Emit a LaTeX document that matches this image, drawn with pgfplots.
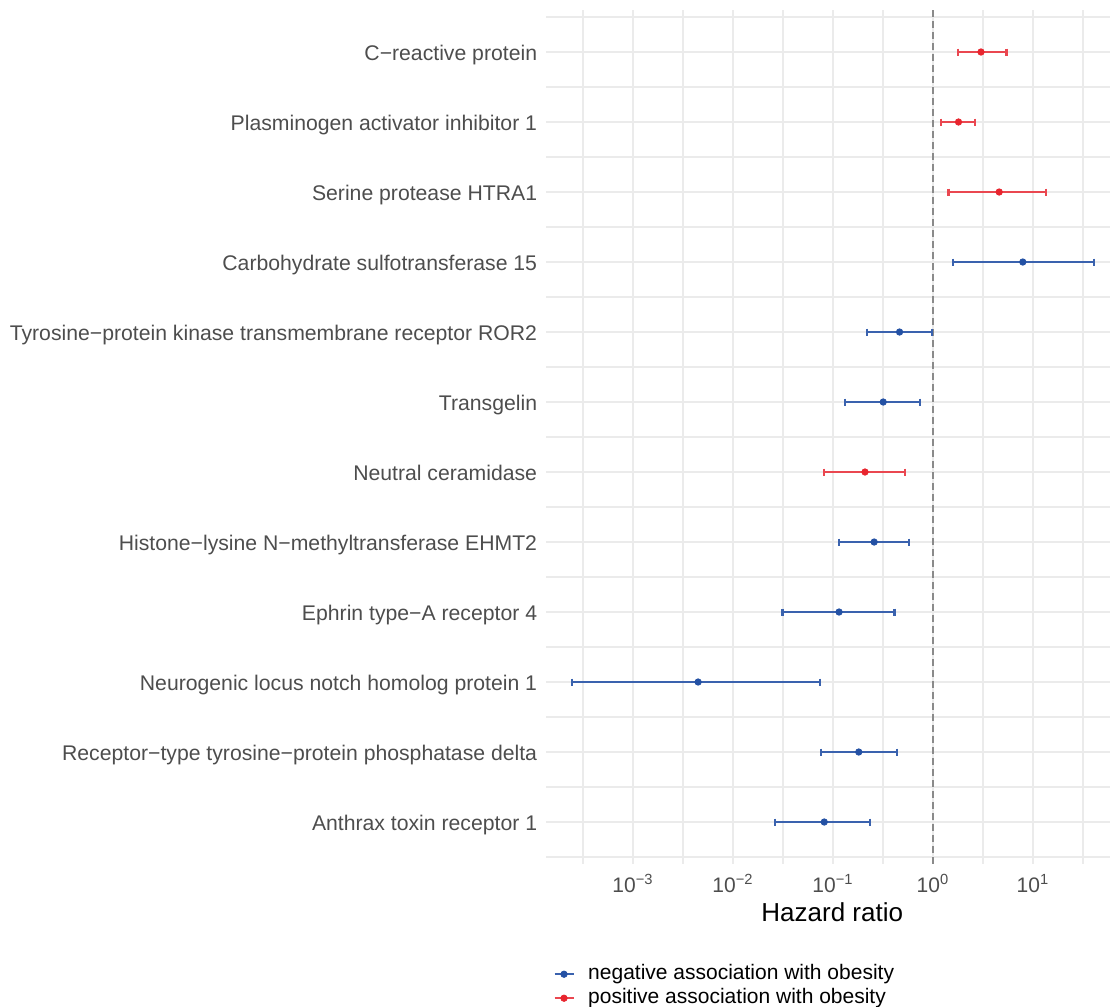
\documentclass[border=0pt]{standalone}
\usepackage{pgfplots}
\pgfplotsset{compat=1.18}
\usepackage{fontspec}
\setmainfont{Liberation Sans}
\definecolor{gridc}{HTML}{EBEBEB}
\definecolor{labc}{HTML}{4D4D4D}
\definecolor{redpt}{HTML}{E8252E}
\definecolor{redln}{HTML}{EA4750}
\definecolor{bluept}{HTML}{2451A4}
\definecolor{blueln}{HTML}{3A62AE}
\definecolor{dashc}{HTML}{8A8A8A}
\begin{document}
\begin{tikzpicture}
\useasboundingbox (0,0) rectangle (555pt,-503.5pt);
\begin{axis}[
  at={(273.25pt,-5pt)}, anchor=north west,
  scale only axis, width=281.75pt, height=427pt,
  xmode=log, log basis x=10,
  xmin=1.3646e-4, xmax=58.88,
  ymin=0.4, ymax=12.6, y dir=reverse,
  axis line style={draw=none},
  major tick length=0pt, minor tick length=0pt,
  xtick={0.001,0.01,0.1,1,10},
  xticklabels={10\textsuperscript{−3},10\textsuperscript{−2},10\textsuperscript{−1},10\textsuperscript{0},10\textsuperscript{1}},
  minor xtick={3.1623e-4,3.1623e-3,0.031623,0.31623,3.1623,31.623},
  ytick={1,2,3,4,5,6,7,8,9,10,11,12},
  yticklabels={C−reactive protein,Plasminogen activator inhibitor 1,Serine protease HTRA1,Carbohydrate sulfotransferase 15,Tyrosine−protein kinase transmembrane receptor ROR2,Transgelin,Neutral ceramidase,Histone−lysine N−methyltransferase EHMT2,Ephrin type−A receptor 4,Neurogenic locus notch homolog protein 1,Receptor−type tyrosine−protein phosphatase delta,Anthrax toxin receptor 1},
  minor ytick={0.5,1.5,2.5,3.5,4.5,5.5,6.5,7.5,8.5,9.5,10.5,11.5,12.5},
  grid=both,
  major grid style={color=gridc, line width=1.25pt},
  minor grid style={color=gridc, line width=0.65pt},
  yticklabel style={font=\fontsize{10.6}{12}\selectfont, color=labc, inner sep=0pt, anchor=base east, xshift=-4.5pt, yshift=-4.4pt},
  xticklabel style={font=\fontsize{10.5}{12}\selectfont, color=labc, inner sep=0pt, anchor=north, yshift=-4.8pt},
  xlabel={Hazard ratio},
  xlabel style={font=\fontsize{13}{15}\selectfont, color=black, at={(axis description cs:0.5,0)}, anchor=base, yshift=-28.5pt, xshift=2pt},
  legend style={draw=none, fill=none, inner sep=0pt, at={(axis description cs:0.0116,-0.1171)}, anchor=north west,
    font=\fontsize{10.5}{12}\selectfont, column sep=6.8pt, row sep=2.2pt,
    nodes={inner sep=0pt, text height=7.6pt, text depth=2.2pt}},
  legend cell align=left,
]
% reference line
\addplot[dashc, line width=1pt, dash pattern=on 3.5pt off 2pt, forget plot] coordinates {(1,0.4) (1,12.6)};
% error bars: red
\addplot[redln, line width=1.1pt, mark=|, mark size=1.75pt, forget plot] coordinates {(1.78,1) (5.43,1)};
\addplot[redln, line width=1.1pt, mark=|, mark size=1.75pt, forget plot] coordinates {(1.21,2) (2.64,2)};
\addplot[redln, line width=1.1pt, mark=|, mark size=1.75pt, forget plot] coordinates {(1.43,3) (13.5,3)};
\addplot[redln, line width=1.1pt, mark=|, mark size=1.75pt, forget plot] coordinates {(0.0818,7) (0.529,7)};
% error bars: blue
\addplot[blueln, line width=1.1pt, mark=|, mark size=1.75pt, forget plot] coordinates {(1.58,4) (40.5,4)};
\addplot[blueln, line width=1.1pt, mark=|, mark size=1.75pt, forget plot] coordinates {(0.218,5) (0.98,5)};
\addplot[blueln, line width=1.1pt, mark=|, mark size=1.75pt, forget plot] coordinates {(0.132,6) (0.746,6)};
\addplot[blueln, line width=1.1pt, mark=|, mark size=1.75pt, forget plot] coordinates {(0.114,8) (0.575,8)};
\addplot[blueln, line width=1.1pt, mark=|, mark size=1.75pt, forget plot] coordinates {(0.0312,9) (0.412,9)};
\addplot[blueln, line width=1.1pt, mark=|, mark size=1.75pt, forget plot] coordinates {(0.000245,10) (0.074,10)};
\addplot[blueln, line width=1.1pt, mark=|, mark size=1.75pt, forget plot] coordinates {(0.0752,11) (0.433,11)};
\addplot[blueln, line width=1.1pt, mark=|, mark size=1.75pt, forget plot] coordinates {(0.0262,12) (0.233,12)};
% points
\addplot[only marks, mark=*, mark size=1.6pt, bluept, mark options={draw=bluept, fill=bluept},
  legend image code/.code={\draw[blueln, line width=1.1pt] (0pt,0pt) -- (9.5pt,0pt); \fill[bluept] (4.75pt,0pt) circle (1.6pt);}]
  coordinates {(7.91,4) (0.463,5) (0.318,6) (0.258,8) (0.115,9) (0.00448,10) (0.181,11) (0.0818,12)};
\addlegendentry{negative association with obesity}
\addplot[only marks, mark=*, mark size=1.6pt, redpt, mark options={draw=redpt, fill=redpt},
  legend image code/.code={\draw[redln, line width=1.1pt] (0pt,0pt) -- (9.5pt,0pt); \fill[redpt] (4.75pt,0pt) circle (1.6pt);}]
  coordinates {(3.02,1) (1.80,2) (4.59,3) (0.209,7)};
\addlegendentry{positive association with obesity}
\end{axis}
\end{tikzpicture}
\end{document}
